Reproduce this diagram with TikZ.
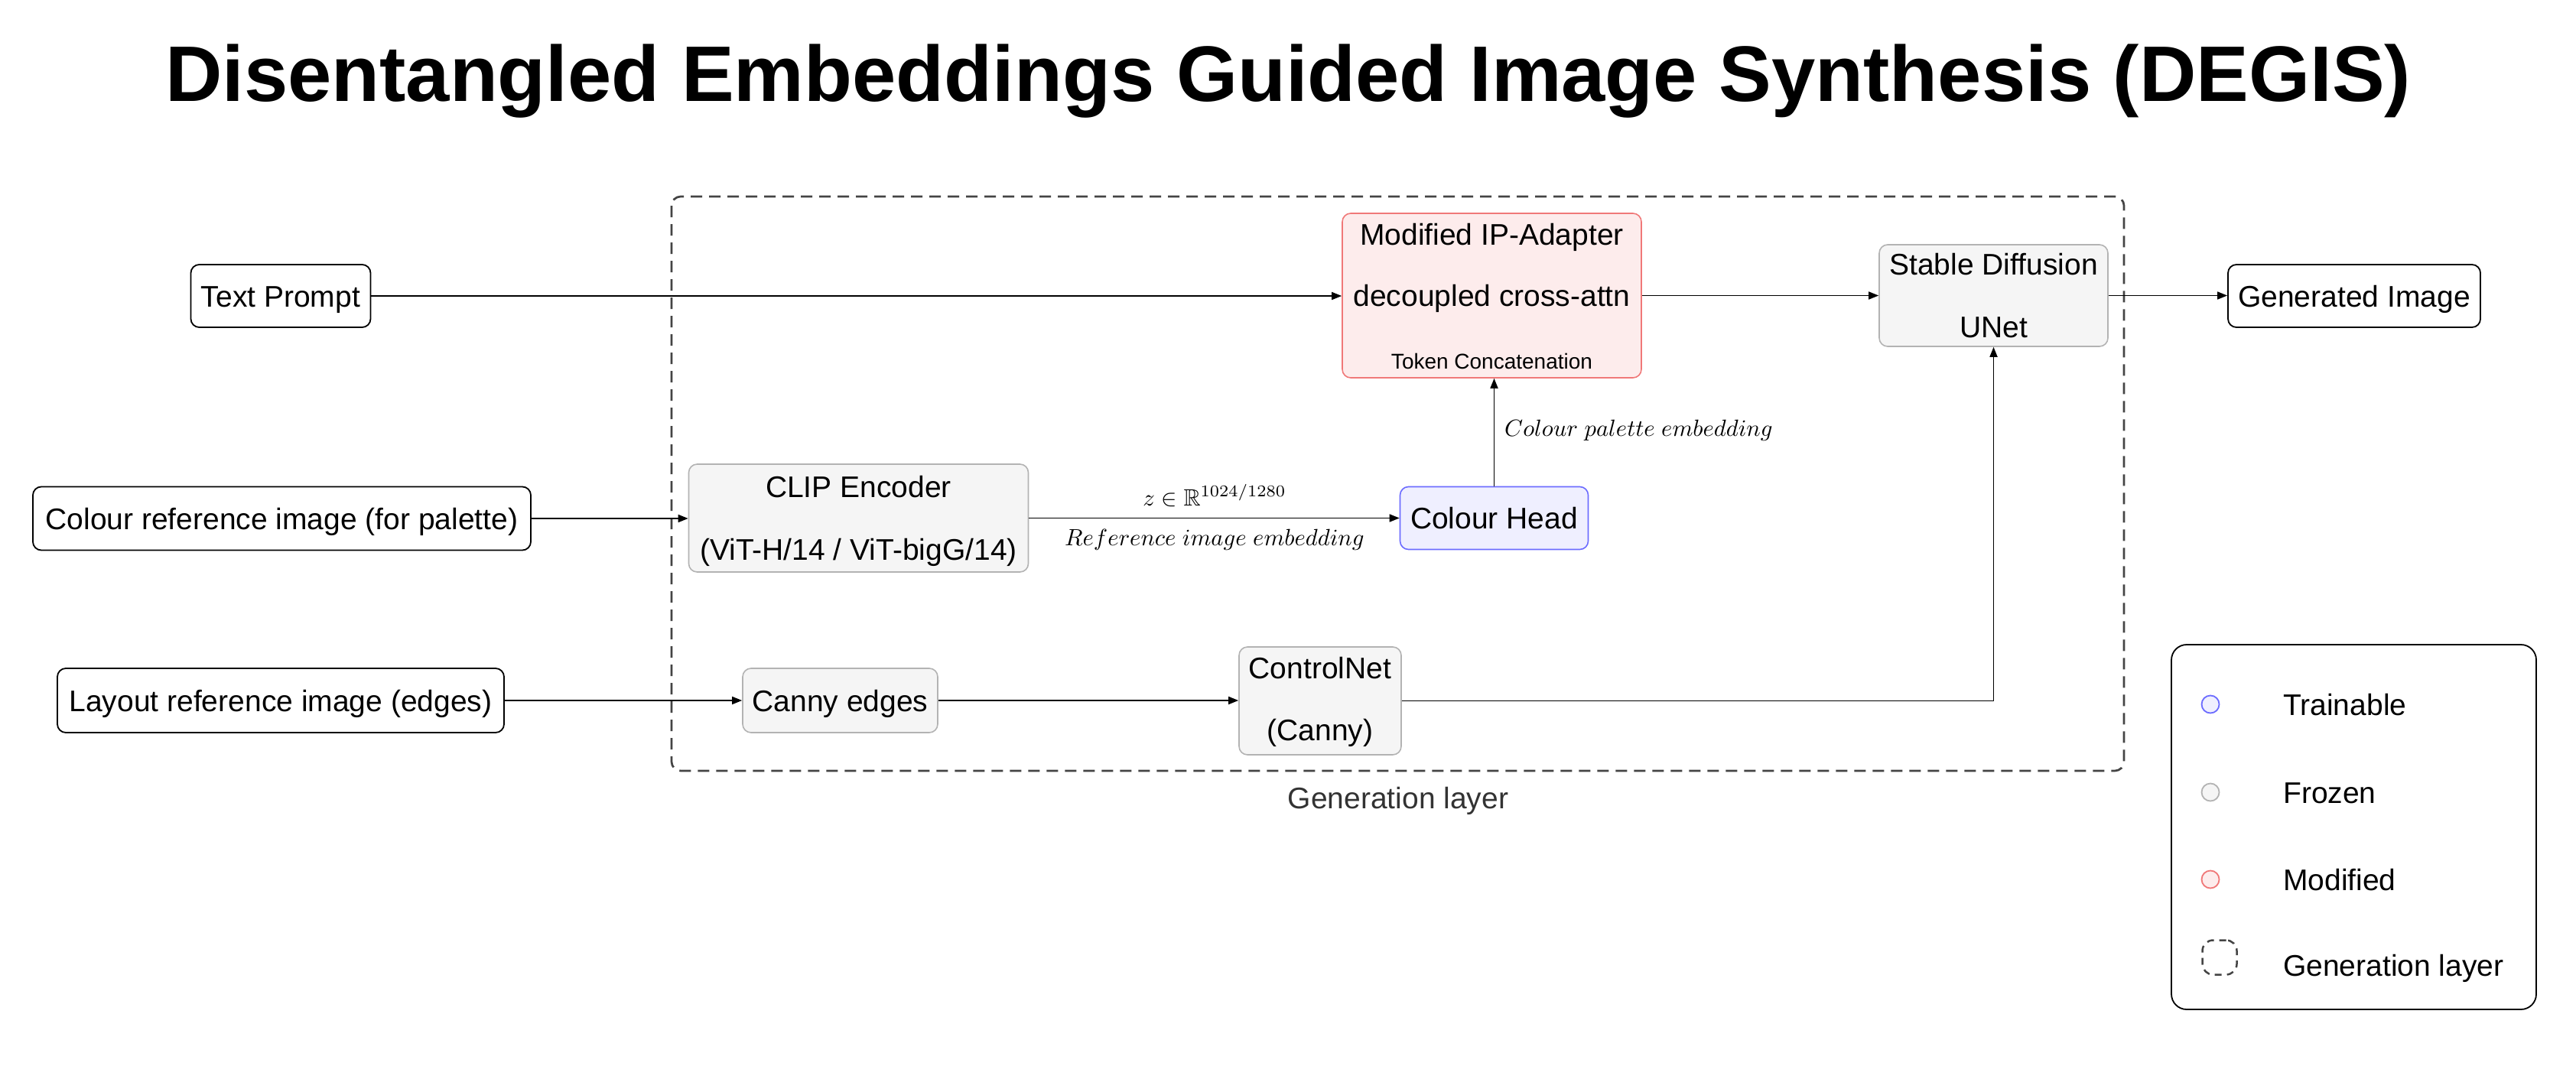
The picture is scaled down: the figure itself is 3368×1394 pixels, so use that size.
\documentclass[tikz,border=0pt]{standalone}
\usepackage[no-math]{fontspec}
\setmainfont{Liberation Sans}
\usepackage{amssymb}
\usepackage{graphicx}
\usetikzlibrary{arrows.meta}
\definecolor{greyfill}{HTML}{F5F5F5}
\definecolor{greyline}{HTML}{B3B3B3}
\definecolor{bluefill}{HTML}{EFEFFF}
\definecolor{blueline}{HTML}{6C6CFF}
\definecolor{redfill}{HTML}{FDECEC}
\definecolor{redline}{HTML}{F07878}
\definecolor{layerline}{HTML}{444444}
\definecolor{layertext}{HTML}{333333}
\newcommand{\mlbl}[1]{\scalebox{3.07}{\fontsize{10}{12}\selectfont$#1$}}
\tikzset{
  bodyfont/.style={font=\fontsize{39}{47}\selectfont},
  inbox/.style={draw=black, line width=1.8pt, fill=white, rounded corners=11pt, inner sep=0pt, bodyfont, text height=28pt, text depth=0pt},
  greybox/.style={draw=greyline, fill=greyfill, line width=1.6pt, rounded corners=11pt, inner sep=0pt, bodyfont, text height=28pt, text depth=0pt},
  bluebox/.style={draw=blueline, fill=bluefill, line width=1.6pt, rounded corners=11pt, inner sep=0pt, bodyfont, text height=28pt, text depth=0pt},
  redbox/.style={draw=redline, fill=redfill, line width=1.6pt, rounded corners=11pt, inner sep=0pt},
  linetxt/.style={bodyfont, inner sep=0pt, anchor=base},
  smalltxt/.style={font=\fontsize{28}{34}\selectfont, inner sep=0pt, anchor=base},
  mathlbl/.style={inner sep=0pt},
  arr/.style={draw=black, line width=1.7pt, -{Triangle[length=13pt,width=10pt]}},
  layerbox/.style={draw=layerline, line width=2.7pt, dash pattern=on 15pt off 9pt, rounded corners=12pt},
  legtxt/.style={bodyfont, inner sep=0pt, anchor=west, text height=28pt, text depth=0pt},
  legicon/.style={circle, minimum size=23pt, inner sep=0pt, line width=1.8pt},
}
\begin{document}
\begin{tikzpicture}[x=1pt,y=-1pt]
\useasboundingbox (0,0) rectangle (3368,1394);
\fill[white] (0,0) rectangle (3368,1394);

% title
\node[font=\fontsize{103}{120}\selectfont\bfseries, inner sep=0pt, anchor=base] (title) at (1684,132) {Disentangled Embeddings Guided Image Synthesis (DEGIS)};

% generation layer
\draw[layerbox] (878,257) rectangle (2777,1008);
\node[bodyfont, text=layertext, inner sep=0pt, text height=28pt, text depth=0pt] (layerlbl) at (1828,1043) {Generation layer};

% inputs
\node[inbox, minimum width=235pt, minimum height=82pt] (tp) at (367,387) {Text Prompt};
\node[inbox, minimum width=651pt, minimum height=83pt] (cref) at (368.5,678) {Colour reference image (for palette)};
\node[inbox, minimum width=584pt, minimum height=84pt] (lref) at (367,916) {Layout reference image (edges)};

% modules
\node[greybox, minimum width=444pt, minimum height=141pt] (clip) at (1122.5,677.5) {};
\node[linetxt] (clipA) at ([yshift=27pt]clip.center) {CLIP Encoder};
\node[linetxt] (clipB) at ([yshift=-55pt]clip.center) {(ViT-H/14 / ViT-bigG/14)};

\node[bluebox, minimum width=246pt, minimum height=82pt] (ch) at (1953.5,677.5) {Colour Head};

\node[redbox, minimum width=391pt, minimum height=215pt] (ip) at (1950.5,386.5) {};
\node[linetxt] (ipA) at ([yshift=66.5pt]ip.center) {Modified IP-Adapter};
\node[linetxt] (ipB) at ([yshift=-13.5pt]ip.center) {decoupled cross-attn};
\node[smalltxt] (ipC) at ([yshift=-96pt]ip.center) {Token Concatenation};

\node[greybox, minimum width=299pt, minimum height=133pt] (sd) at (2606.5,386.5) {};
\node[linetxt] (sdA) at ([yshift=27pt]sd.center) {Stable Diffusion};
\node[linetxt] (sdB) at ([yshift=-55pt]sd.center) {UNet};

\node[greybox, minimum width=255pt, minimum height=84pt] (canny) at (1098.5,916) {Canny edges};

\node[greybox, minimum width=212pt, minimum height=141pt] (cn) at (1726,916.5) {};
\node[linetxt] (cnA) at ([yshift=29pt]cn.center) {ControlNet};
\node[linetxt] (cnB) at ([yshift=-52pt]cn.center) {(Canny)};

\node[inbox, minimum width=330pt, minimum height=82pt] (gen) at (3078,387) {Generated Image};

% connectors
\draw[arr] (tp.east) -- (tp.east -| ip.west);
\draw[arr] (ip.east) -- (ip.east -| sd.west);
\draw[arr] (sd.east) -- (sd.east -| gen.west);
\draw[arr] (cref.east) -- (cref.east -| clip.west);
\draw[arr] (clip.east) -- (clip.east -| ch.west);
\draw[arr] (ch.north) -- (ch.north |- ip.south);
\draw[arr] (lref.east) -- (lref.east -| canny.west);
\draw[arr] (canny.east) -- (canny.east -| cn.west);
\draw[arr] (cn.east) -| (sd.south);

% connector labels
\node[mathlbl] (zlbl) at (1588,648) {\mlbl{z \in \mathbb{R}^{1024/1280}}};
\node[mathlbl] (reflbl) at (1588,706) {\mlbl{Reference\ image\ embedding}};
\node[mathlbl, anchor=west] (pallbl) at (1967,563) {\mlbl{Colour\ palette\ embedding}};

% legend
\draw[draw=black, line width=1.8pt, rounded corners=20pt] (2839,843) rectangle (3316,1320);
\node[legicon, draw=blueline, fill=bluefill] (legT) at (2890,921) {};
\node[legtxt] (legTt) at (2985,921) {Trainable};
\node[legicon, draw=greyline, fill=greyfill] (legF) at (2890,1036) {};
\node[legtxt] (legFt) at (2985,1036) {Frozen};
\node[legicon, draw=redline, fill=redfill] (legM) at (2890,1150) {};
\node[legtxt] (legMt) at (2985,1150) {Modified};
\node[draw=layerline, line width=2.5pt, dash pattern=on 9pt off 7pt, rounded corners=14pt, minimum size=45pt, inner sep=0pt] (legG) at (2902,1252) {};
\node[legtxt] (legGt) at (2985,1262) {Generation layer};
\end{tikzpicture}
\end{document}
